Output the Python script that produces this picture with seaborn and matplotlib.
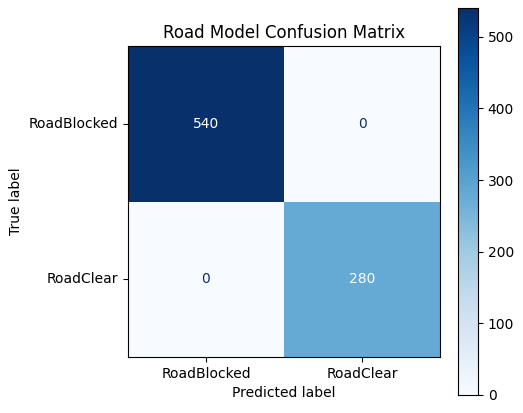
import matplotlib
matplotlib.use("Agg")
import matplotlib.pyplot as plt
import seaborn as sns
import numpy as np

labels = ["RoadBlocked", "RoadClear"]
row_blocked = [540, 0]
row_clear = [0, 280]
cm = np.array([row_blocked, row_clear])

fig = plt.figure(figsize=(5.23, 4.13), dpi=100)
ax = fig.add_axes([128/523, 1-357/413, 312/523, 311/413])
cax = fig.add_axes([458/523, 1-395/413, 20/523, 387/413])
sns.heatmap(cm, ax=ax, cbar_ax=cax, cmap="Blues", vmin=0, vmax=540,
            annot=False, square=False, xticklabels=labels, yticklabels=labels)
for i in range(2):
    for j in range(2):
        v = cm[i, j]
        ax.text(j+0.5, i+0.5, str(v), ha="center", va="center",
                color="white" if v > 270 else "#08306b", fontsize=10)
for s in ax.spines.values():
    s.set_visible(True)
ax.tick_params(length=3.5)
ax.set_yticklabels(labels, rotation=0)
ax.set_xticklabels(labels, rotation=0)
ax.set_xlabel("Predicted label")
ax.set_ylabel("True label")
ax.set_title("Road Model Confusion Matrix")
cax.set_yticks([0, 100, 200, 300, 400, 500])
for s in cax.spines.values():
    s.set_visible(True)
fig.savefig("out.png", dpi=100)
